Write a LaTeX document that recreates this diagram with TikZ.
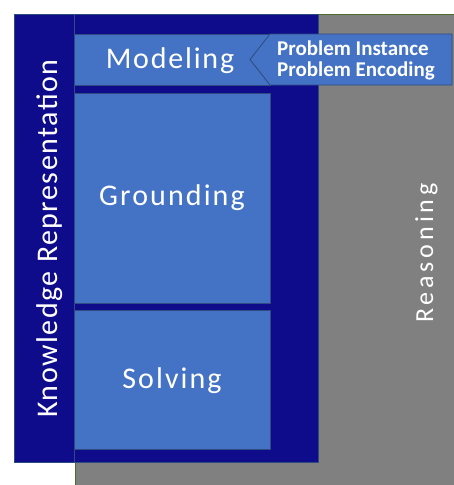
\documentclass[tikz,border=0pt]{standalone}
\usepackage{fontspec}
\setmainfont{Carlito}
\begin{document}
\begin{tikzpicture}[x=1pt,y=-1pt,
  darkpanel/.style={fill=kdark,draw=kedge,line width=0.6pt},
  stage/.style={fill=kblue,draw=kedge,line width=0.8pt},
  stagetext/.style={text=white,inner sep=0pt,anchor=base,
    font=\fontsize{30}{34}\selectfont\addfontfeature{LetterSpace=7}},
  sidetext/.style={text=white,inner sep=0pt,anchor=base,rotate=90}]
\definecolor{kdark}{HTML}{0F0C8C}
\definecolor{kblue}{HTML}{4472C4}
\definecolor{kedge}{HTML}{2F4A80}
\definecolor{kgray}{HTML}{808080}
\definecolor{kgreen}{HTML}{4E6B30}
\useasboundingbox (0,0) rectangle (453,485);
% reasoning backdrop
\fill[kgray,draw=kgreen,line width=0.6pt] (75,14) rectangle (455,487);
\node[sidetext,font=\fontsize{26}{30}\selectfont\addfontfeature{LetterSpace=15}] (reason) at (433,253) {Reasoning};
% knowledge representation panel
\draw[darkpanel] (14,14) rectangle (318,462);
\draw[kedge,line width=0.6pt] (74,14) -- (74,462);
\node[sidetext,font=\fontsize{30}{34}\selectfont\addfontfeature{LetterSpace=5}] (kr) at (57,238.5) {Knowledge Representation};
% stages
\node[stage,minimum width=196pt,minimum height=51pt,anchor=north west,inner sep=0pt] (model) at (74,34) {};
\node[stage,minimum width=196pt,minimum height=210pt,anchor=north west,inner sep=0pt] (ground) at (74,93) {};
\node[stage,minimum width=196pt,minimum height=139pt,anchor=north west,inner sep=0pt] (solve) at (74,310) {};
\node[stagetext,font=\fontsize{30}{34}\selectfont\addfontfeature{LetterSpace=6}] (modeltext) at (170,68.5) {Modeling};
\node[stagetext] (groundtext) at (172,205) {Grounding};
\node[stagetext] (solvetext) at (172,388) {Solving};
% input callout
\draw[stage] (250,59.5) -- (270,34) -- (452,34) -- (452,85) -- (270,85) -- cycle;
\node[text=white,font=\bfseries\fontsize{21}{21.7}\selectfont,align=left,anchor=base west,inner sep=0pt] (inputs) at (277,76.7) {Problem Instance\\Problem Encoding};
\end{tikzpicture}
\end{document}
